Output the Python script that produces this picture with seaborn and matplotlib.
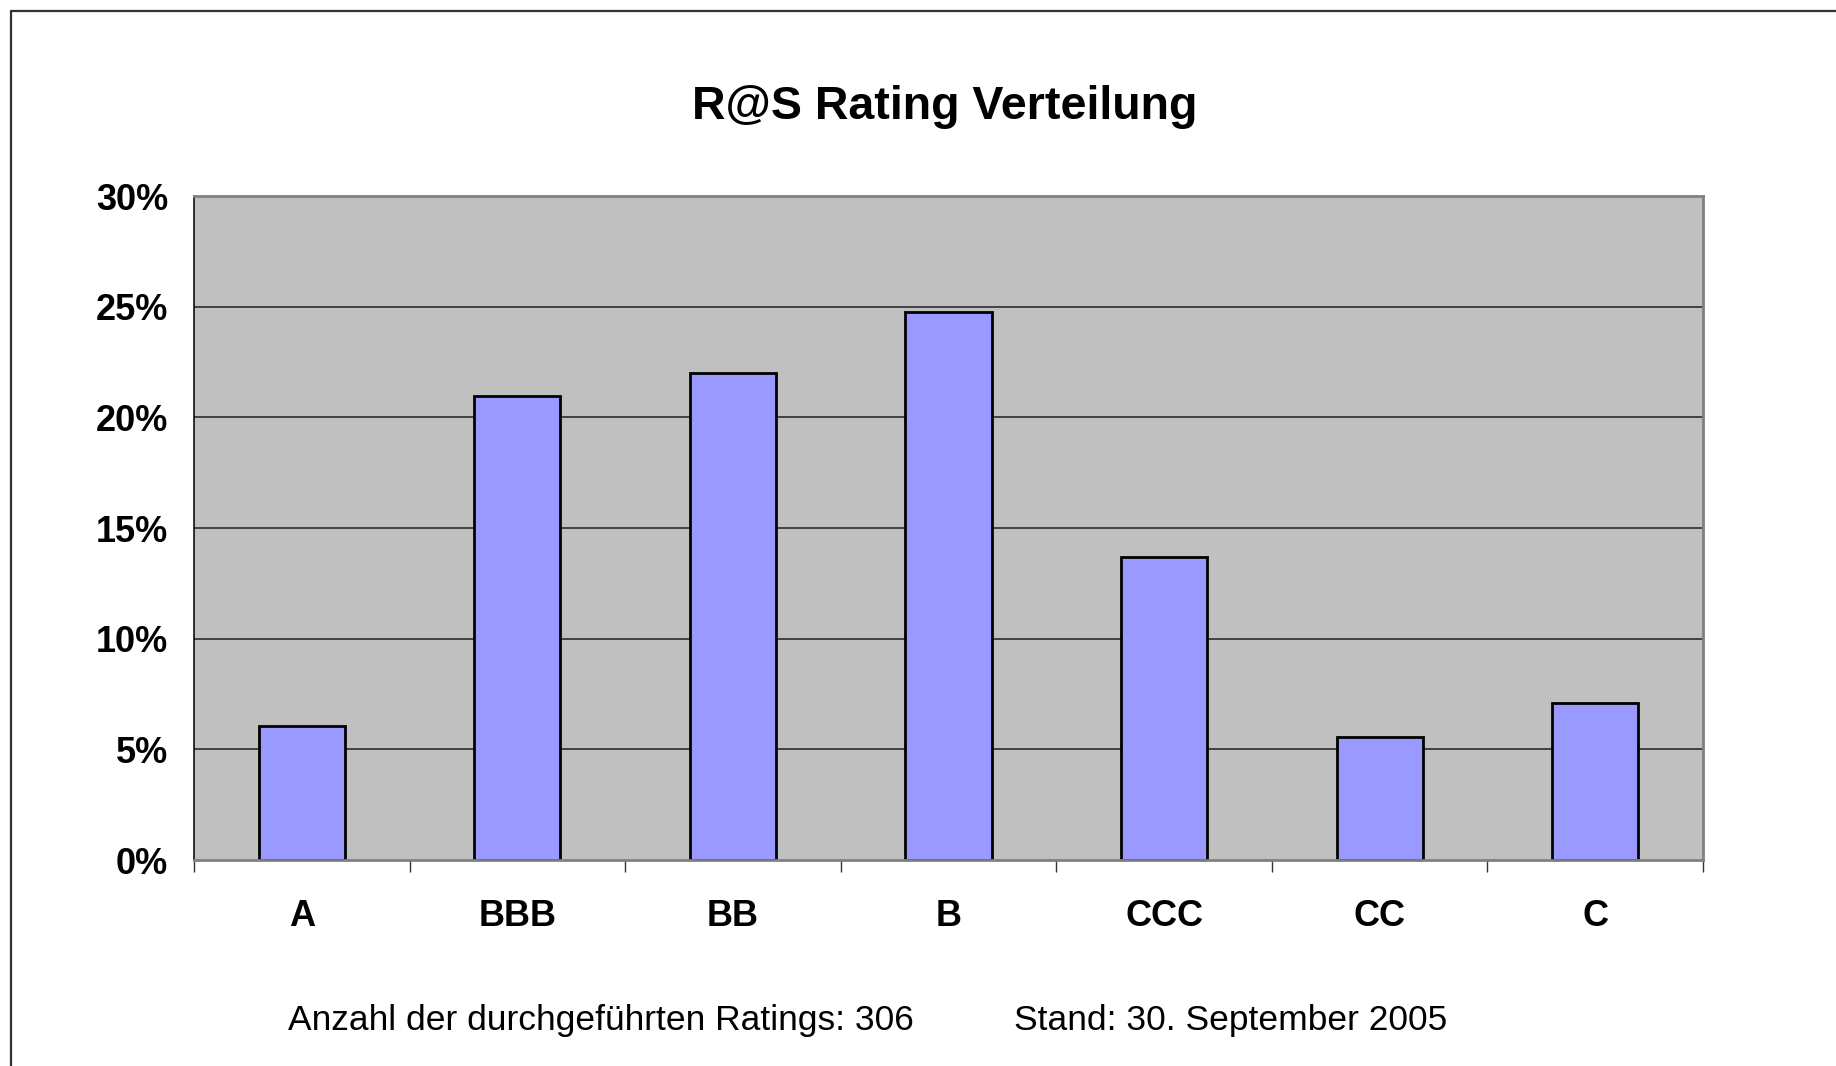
import matplotlib
matplotlib.use("Agg")
import matplotlib.pyplot as plt
from matplotlib.lines import Line2D
from matplotlib.ticker import PercentFormatter, FixedLocator, NullFormatter
import seaborn as sns
import pandas as pd

# ---- data ----
categories = ["A", "BBB", "BB", "B", "CCC", "CC", "C"]
shares = [6.05, 20.95, 22.0, 24.75, 13.7, 5.55, 7.1]   # percent of ratings
y_ticks = [0, 5, 10, 15, 20, 25, 30]
title_text = "R@S Rating Verteilung"
footer_left = "Anzahl der durchgeführten Ratings: 306"
footer_right = "Stand: 30. September 2005"

sns.set_theme(style="white")
plt.rcParams["font.family"] = ["Liberation Sans", "DejaVu Sans"]
plt.rcParams["text.color"] = "black"
plt.rcParams["xtick.color"] = "black"
plt.rcParams["ytick.color"] = "black"
plt.rcParams["axes.labelcolor"] = "black"

W, H = 1836, 1066
fig = plt.figure(figsize=(W / 100, H / 100), dpi=100)
fig.patch.set_facecolor("white")

L, R, T, B = 194, 1703, 196, 860
ax = fig.add_axes([L / W, 1 - B / H, (R - L) / W, (B - T) / H])
ax.set_facecolor("#C0C0C0")

df = pd.DataFrame({"cat": categories, "val": shares})
sns.barplot(data=df, x="cat", y="val", color="#9999FF", saturation=1,
            width=0.4, edgecolor="black", linewidth=2.0, ax=ax, zorder=3)

ax.set_xlim(-0.5, len(categories) - 0.5)
ax.set_ylim(0, 30)

# gridlines
for v in y_ticks[1:-1]:
    ax.axhline(v, color="#202020", linewidth=1.1, zorder=1)

# y axis
ax.set_yticks(y_ticks)
ax.yaxis.set_major_formatter(PercentFormatter(decimals=0))
ax.tick_params(axis="y", which="major", direction="out", length=8.6, width=1.0,
               color="#333333", labelcolor="black", pad=10, labelsize=26)
for lab in ax.get_yticklabels():
    lab.set_fontweight("bold")

# x axis: ticks at category boundaries, labels at centres
ax.xaxis.set_major_locator(FixedLocator([i - 0.5 for i in range(len(categories) + 1)]))
ax.xaxis.set_major_formatter(NullFormatter())
ax.set_xticks(range(len(categories)), labels=categories, minor=True)
ax.tick_params(axis="x", which="major", direction="out", length=8.6, width=1.0,
               color="#333333", bottom=True)
ax.tick_params(axis="x", which="minor", length=0, pad=28, labelsize=26, labelcolor="black")
for lab in ax.get_xticklabels(minor=True):
    lab.set_fontweight("bold")
ax.set_xlabel("")
ax.set_ylabel("")

# spines
for s in ["top", "right", "bottom"]:
    ax.spines[s].set_visible(True)
    ax.spines[s].set_color("#808080")
    ax.spines[s].set_linewidth(2.0)
ax.spines["left"].set_visible(True)
ax.spines["left"].set_color("black")
ax.spines["left"].set_linewidth(1.1)
ax.spines["bottom"].set_zorder(4)

# title and footer
fig.text((L + R) / 2 / W - 0.002, 1 - 107 / H, title_text, ha="center", va="center",
         fontsize=33.5, fontweight="bold", color="black")
fig.text(288 / W, 1 - 1030 / H, footer_left, ha="left", va="baseline", fontsize=25.5, color="black")
fig.text(1014 / W, 1 - 1030 / H, footer_right, ha="left", va="baseline", fontsize=25.5, color="black")

# outer frame (left and top edges visible)
x0 = 11 / W
y0 = 1 - 11 / H
fig.add_artist(Line2D([x0, x0], [0, y0], transform=fig.transFigure, color="#333333", linewidth=1.6))
fig.add_artist(Line2D([x0, 1], [y0, y0], transform=fig.transFigure, color="#333333", linewidth=1.6))

fig.savefig("out.png", dpi=100, facecolor="white")
